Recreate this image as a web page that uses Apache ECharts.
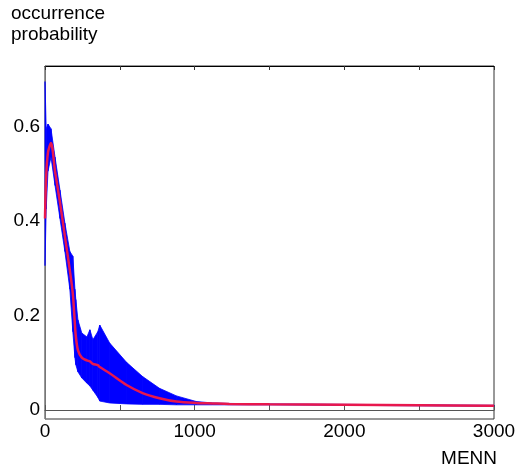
<!DOCTYPE html>
<html>
<head>
<meta charset="utf-8">
<script src="https://cdn.jsdelivr.net/npm/echarts@6/dist/echarts.min.js"></script>
<style>
  html, body { margin: 0; padding: 0; background: #fff; }
  #chart { width: 517px; height: 471px; }
</style>
</head>
<body>
<div id="chart"></div>
<script>
var menn = [0, 8, 20, 40, 67, 100, 133, 166, 186, 200, 206, 220, 246, 280, 300, 320, 353, 366, 432, 545, 652, 765, 878, 1011, 1118, 1231, 1500, 2000, 2500, 3000];
// mean occurrence probability (red)
var meanProb = [0.406, 0.496, 0.546, 0.566, 0.506, 0.44, 0.368, 0.296, 0.246, 0.181, 0.156, 0.127, 0.111, 0.105, 0.103, 0.098, 0.095, 0.091, 0.078, 0.053, 0.036, 0.025, 0.018, 0.015, 0.014, 0.013, 0.012, 0.011, 0.010, 0.009];
// envelope of all runs (blue band)
var upperProb = [0.696, 0.596, 0.606, 0.596, 0.536, 0.466, 0.396, 0.336, 0.326, 0.256, 0.234, 0.191, 0.163, 0.155, 0.17, 0.149, 0.166, 0.18, 0.142, 0.101, 0.071, 0.046, 0.030, 0.018, 0.015, 0.014, 0.013, 0.012, 0.011, 0.010];
var lowerProb = [0.306, 0.426, 0.506, 0.536, 0.476, 0.406, 0.336, 0.256, 0.166, 0.111, 0.096, 0.081, 0.068, 0.057, 0.051, 0.042, 0.027, 0.019, 0.015, 0.013, 0.012, 0.012, 0.011, 0.011, 0.011, 0.011, 0.011, 0.010, 0.009, 0.008];

var xLabels = [0, 1000, 2000, 3000];
var yLabels = [0, 0.2, 0.4, 0.6];

var chart = echarts.init(document.getElementById('chart'));

var bandData = menn.map(function(x, i) { return [x, lowerProb[i], upperProb[i]]; });
var meanData = menn.map(function(x, i) { return [x, meanProb[i]]; });

var font = 'Liberation Sans, Arial, sans-serif';

// one quad of the band between point i and i+1
function renderBand(params, api) {
    var i = params.dataIndex;
    if (i >= bandData.length - 1) return;
    var a = bandData[i], b = bandData[i + 1];
    var pts = [
        api.coord([a[0], a[1]]),
        api.coord([a[0], a[2]]),
        api.coord([b[0], b[2]]),
        api.coord([b[0], b[1]])
    ];
    return {
        type: 'polygon',
        shape: { points: pts },
        style: { fill: '#0000ff', stroke: '#0000ff', lineWidth: 0.8 }
    };
}

var option = {
    animation: false,
    backgroundColor: '#fff',
    title: {
        text: 'occurrence\nprobability',
        left: 11,
        top: 3,
        padding: 0,
        textStyle: { fontFamily: font, fontSize: 19, fontWeight: 'normal', color: '#000', lineHeight: 21 }
    },
    graphic: [{
        type: 'text',
        right: 20,
        top: 449,
        style: { text: 'MENN', font: '19px ' + font, fill: '#000' }
    }],
    grid: {
        left: 45, right: 23, top: 66, bottom: 52,
        outerBoundsMode: 'none',
        containLabel: false,
        show: true,
        borderColor: '#333',
        borderWidth: 1
    },
    xAxis: [{
        type: 'value',
        min: 0, max: 3000, interval: 500,
        splitLine: { show: false },
        axisLine: { lineStyle: { color: '#555' } },
        axisTick: { inside: true, length: 5, lineStyle: { color: '#555' } },
        axisLabel: {
            customValues: xLabels, margin: 3, fontFamily: font, fontSize: 19, color: '#000',
            formatter: function(v) { return String(v); }
        }
    }, {
        type: 'value',
        position: 'top',
        min: 0, max: 3000, interval: 500,
        splitLine: { show: false },
        axisLine: { lineStyle: { color: '#000' } },
        axisTick: { inside: true, length: 4, lineStyle: { color: '#333' } },
        axisLabel: { show: false }
    }],
    yAxis: {
        type: 'value',
        min: -0.019, max: 0.729,
        splitLine: { show: false },
        axisLine: { show: true, lineStyle: { color: '#777' } },
        axisTick: { show: false },
        axisLabel: {
            customValues: yLabels, margin: 5, fontFamily: font, fontSize: 19, color: '#000',
            formatter: function(v) { return String(v); }
        }
    },
    series: [{
        name: 'runs',
        type: 'custom',
        xAxisIndex: 0,
        renderItem: renderBand,
        encode: { x: 0, y: [1, 2] },
        data: bandData
    }, {
        name: 'mean',
        type: 'line',
        xAxisIndex: 0,
        data: meanData,
        symbol: 'none',
        smooth: 0.3,
        lineStyle: { color: '#e8174d', width: 2.5 },
        z: 5
    }]
};

chart.setOption(option);
</script>
</body>
</html>
